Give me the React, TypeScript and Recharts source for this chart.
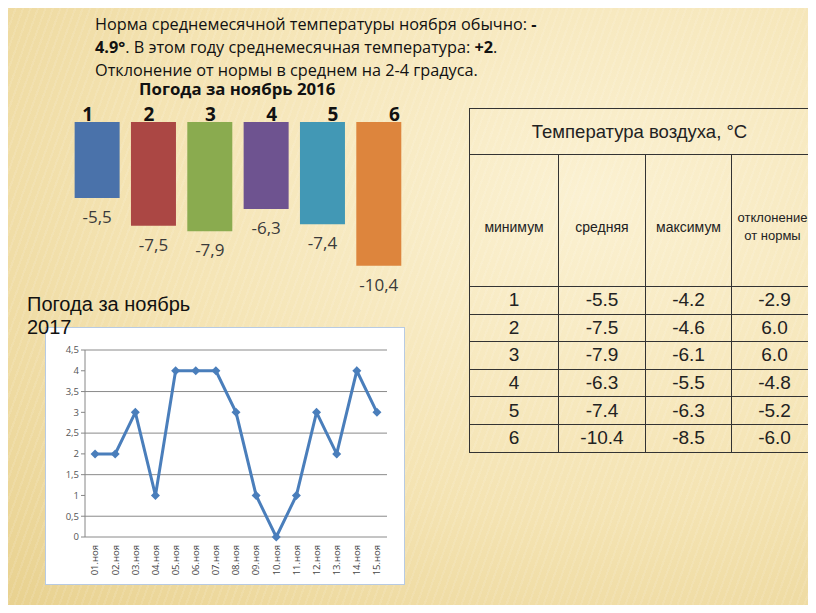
import React from 'react';
import { BarChart, Bar, XAxis, YAxis, Cell, LabelList, LineChart, Line, CartesianGrid } from 'recharts';

// 2016: средняя температура по пятидневкам
const barGroups = ['1', '2', '3', '4', '5', '6'];
const barValues = [-5.5, -7.5, -7.9, -6.3, -7.4, -10.4];
const barColors = ['#4a72aa', '#ab4744', '#8aab4f', '#6e5390', '#4298b5', '#dd853d'];

// 2017: температура по дням
const lineDays = ['01.ноя', '02.ноя', '03.ноя', '04.ноя', '05.ноя', '06.ноя', '07.ноя', '08.ноя', '09.ноя', '10.ноя', '11.ноя', '12.ноя', '13.ноя', '14.ноя', '15.ноя'];
const lineValues = [2, 2, 3, 1, 4, 4, 4, 3, 1, 0, 1, 3, 2, 4, 3];
const lineTicks = [0, 0.5, 1, 1.5, 2, 2.5, 3, 3.5, 4, 4.5];

// таблица
const tableTitle = 'Температура воздуха, °C';
const tableHeaders = ['минимум', 'средняя', 'максимум', 'отклонение\nот нормы'];
const tableRowNums = ['1', '2', '3', '4', '5', '6'];
const tableMean = ['-5.5', '-7.5', '-7.9', '-6.3', '-7.4', '-10.4'];
const tableMax = ['-4.2', '-4.6', '-6.1', '-5.5', '-6.3', '-8.5'];
const tableDeviation = ['-2.9', '6.0', '6.0', '-4.8', '-5.2', '-6.0'];

const barData = barGroups.map((g, i) => ({ group: g, value: barValues[i] }));
const lineData = lineDays.map((d, i) => ({ day: d, t: lineValues[i] }));
const bandTicks = lineDays.map((_, i) => i).concat(lineDays.length);

const calibri = '"Open Sans", sans-serif';
const arial = '"Liberation Sans", Arial, sans-serif';
const comma = (v: number) => String(v).replace('.', ',');

const GroupTick = (props: any) => {
  const { x, y, payload, index } = props;
  return (
    <text x={x - 9.5 + index * 5} y={y + 6.5} textAnchor="middle" fontFamily={calibri} fontWeight={700} fontSize={19} fill="#111">
      {payload.value}
    </text>
  );
};

const BarValueLabel = (props: any) => {
  const { x, y, width, height, value } = props;
  const bottom = Math.max(y, y + height);
  return (
    <text x={x + width / 2} y={bottom + 25} textAnchor="middle" fontFamily={calibri} fontSize={17} fill="#3a3a3a">
      {comma(value)}
    </text>
  );
};

const DayTick = (props: any) => {
  const { x, y, payload } = props;
  return (
    <text x={x} y={y} dy="0.35em" transform={`rotate(-90 ${x} ${y})`} textAnchor="end" fontFamily={calibri} fontSize={9.5} fill="#444">
      {payload.value}
    </text>
  );
};

const Diamond = (props: any) => {
  const { cx, cy, index } = props;
  const r = 4.5;
  return <path key={index} d={`M${cx},${cy - r}L${cx + r},${cy}L${cx},${cy + r}L${cx - r},${cy}Z`} fill="#4a7ebb" />;
};

const cell: React.CSSProperties = { border: '1.5px solid #333', textAlign: 'center', padding: 0 };

export default function App() {
  return (
    <div style={{
      position: 'relative', width: 816, height: 613, margin: -8, overflow: 'hidden', boxSizing: 'border-box',
      border: '2px solid #4a3d28',
      background: 'repeating-linear-gradient(110deg, rgba(255,255,255,0.10) 0 2px, rgba(255,255,255,0) 2px 7px), radial-gradient(ellipse at 72% 32%, #fbf1d2 0%, #f4e3b2 55%, #e8d18f 100%)',
    }}>
      <div style={{ position: 'absolute', left: 93, top: 11, fontFamily: calibri, fontSize: 16.25, lineHeight: '23px', color: '#111', whiteSpace: 'nowrap' }}>
        <div>Норма среднемесячной температуры ноября обычно: <b>-</b></div>
        <div><b>4.9°</b>. В этом году среднемесячная температура: <b>+2</b>.</div>
        <div>Отклонение от нормы в среднем на 2-4 градуса.</div>
      </div>
      <div style={{ position: 'absolute', left: 137, top: 76, fontFamily: calibri, fontSize: 16.8, fontWeight: 700, lineHeight: '21px', color: '#111', whiteSpace: 'nowrap' }}>
        Погода за ноябрь 2016
      </div>

      <div style={{ position: 'absolute', left: -2, top: 88 }}>
        <BarChart width={420} height={214} data={barData} margin={{ top: 12, right: 13, left: 69, bottom: 30 }} barCategoryGap="10%">
          <XAxis dataKey="group" orientation="top" height={20} axisLine={false} tickLine={false} tick={<GroupTick />} interval={0} />
          <YAxis hide domain={[-11, 0]} />
          <Bar dataKey="value" isAnimationActive={false}>
            {barData.map((d, i) => <Cell key={d.group} fill={barColors[i]} />)}
            <LabelList dataKey="value" content={<BarValueLabel />} />
          </Bar>
        </BarChart>
      </div>

      <div style={{ position: 'absolute', left: 43, top: 325, width: 358, height: 256, background: '#fff', border: '1px solid #b8cbe3' }}>
        <LineChart width={358} height={256} data={lineData} margin={{ top: 22, right: 17, left: 11, bottom: 7 }}>
          <CartesianGrid vertical={false} stroke="#8a8a8a" xAxisId="days" />
          <XAxis xAxisId="grid" type="number" domain={[0, lineDays.length]} ticks={bandTicks} interval={0} height={0} tick={false} tickSize={5} stroke="#868686" />
          <XAxis xAxisId="days" dataKey="day" scale="band" height={40} axisLine={false} tickLine={false} interval={0} tick={<DayTick />} />
          <YAxis domain={[0, 4.5]} ticks={lineTicks} width={28} tickSize={4} stroke="#868686" tickFormatter={comma}
            tick={{ fontFamily: calibri, fontSize: 9.5, fill: '#555' }} />
          <Line xAxisId="days" dataKey="t" type="linear" stroke="#4a7ebb" strokeWidth={3} dot={Diamond} isAnimationActive={false} />
        </LineChart>
      </div>

      <div style={{ position: 'absolute', left: 25, top: 291, fontFamily: arial, fontSize: 20, lineHeight: '23px', color: '#111' }}>
        <div>Погода за ноябрь</div>
        <div>2017</div>
      </div>

      <table style={{ position: 'absolute', left: 467, top: 106, borderCollapse: 'collapse', fontFamily: arial, color: '#222', tableLayout: 'fixed', width: 360 }}>
        <colgroup>
          <col style={{ width: 89 }} /><col style={{ width: 87 }} /><col style={{ width: 86 }} /><col style={{ width: 98 }} />
        </colgroup>
        <tbody>
          <tr style={{ height: 46 }}>
            <td colSpan={4} style={{ ...cell, fontSize: 18.5, paddingRight: 20 }}>{tableTitle}</td>
          </tr>
          <tr style={{ height: 132 }}>
            {tableHeaders.map((h, i) => (
              <td key={h} style={{ ...cell, fontSize: i === 3 ? 13 : 14, paddingTop: 12, lineHeight: '18px', whiteSpace: 'pre-line', paddingRight: i === 3 ? 16 : 0 }}>{h}</td>
            ))}
          </tr>
          {tableRowNums.map((n, i) => (
            <tr key={n} style={{ height: 27.6, fontSize: 19 }}>
              <td style={cell}>{n}</td>
              <td style={cell}>{tableMean[i]}</td>
              <td style={cell}>{tableMax[i]}</td>
              <td style={{ ...cell, paddingRight: 12 }}>{tableDeviation[i]}</td>
            </tr>
          ))}
        </tbody>
      </table>
    </div>
  );
}
